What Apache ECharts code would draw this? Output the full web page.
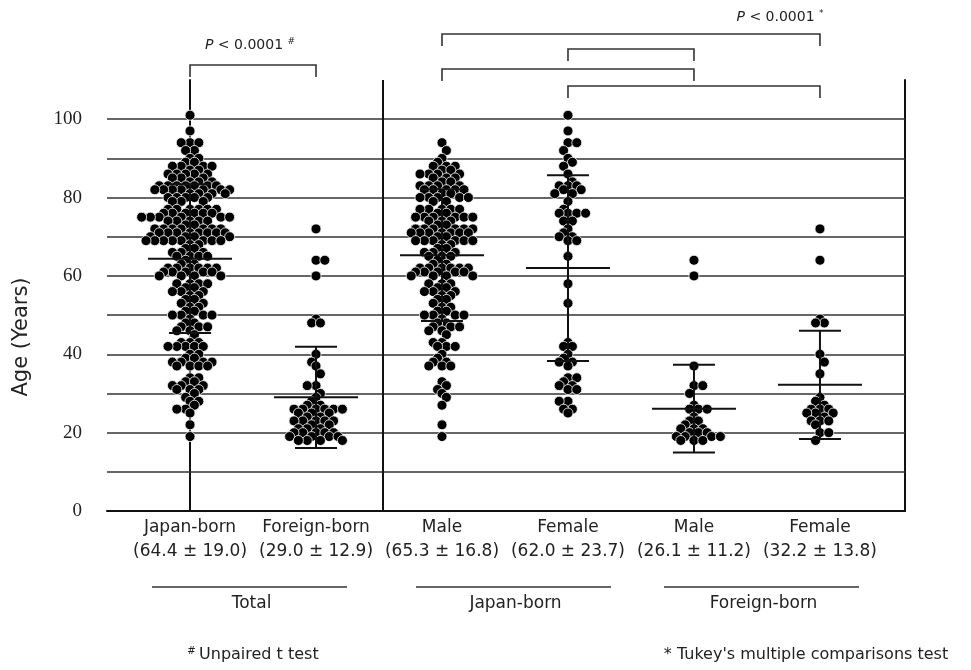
<!DOCTYPE html>
<html><head><meta charset="utf-8">
<script src="https://cdn.jsdelivr.net/npm/echarts@6/dist/echarts.min.js"></script>
<style>html,body{margin:0;padding:0;background:#fff}#c{width:971px;height:670px}</style>
</head><body><div id="c"></div>
<script>
// ---------- data ----------
const categories = ['Japan-born', 'Foreign-born', 'Male', 'Female', 'Male', 'Female'];
const means = [64.4, 29.0, 65.3, 62.0, 26.1, 32.2];
const sds = [19.0, 12.9, 16.8, 23.7, 11.2, 13.8];
const yTickLabels = [0, 20, 40, 60, 80, 100];
const gridValues = [10, 20, 30, 40, 50, 60, 70, 80, 90, 100];
const groupNames = ['Total', 'Japan-born', 'Foreign-born'];

const japanMale = [94,92,90,89,88,88,88,87,87,86,86,86,86,85,85,85,84,84,83,83,83,83,82,82,82,82,82,81,81,
  80,80,80,80,80,79,79,77,77,77,77,77,76,76,75,75,75,75,75,75,74,74,74,73,73,72,72,72,72,72,72,
  71,71,71,71,71,71,71,70,70,69,69,69,69,69,69,68,68,67,67,66,66,66,65,65,65,64,63,63,
  62,62,62,62,62,62,61,61,61,61,61,60,60,60,60,58,58,58,57,57,56,56,56,55,55,54,54,53,52,52,51,51,
  50,50,50,50,49,48,48,47,47,47,46,46,45,43,43,42,42,42,40,39,38,38,37,37,37,33,32,31,30,29,27,22,19];
const japanFemale = [101,97,94,94,92,90,89,88,86,84,83,83,83,82,82,81,81,79,77,76,76,76,76,74,74,72,71,70,70,
  69,69,65,58,53,43,42,42,40,39,38,38,37,34,34,33,32,32,31,31,28,28,26,26,25];
const foreignMale = [64,60,37,32,32,30,27,26,26,26,24,23,23,22,21,21,21,20,20,20,19,19,19,19,18,18,18];
const foreignFemale = [72,64,49,48,48,40,38,35,29,28,27,26,26,26,25,25,25,24,23,23,23,22,20,20,18];
const japanTotal = japanMale.concat(japanFemale);
const foreignTotal = foreignMale.concat(foreignFemale);
const groupsData = [japanTotal, foreignTotal, japanMale, japanFemale, foreignMale, foreignFemale];

// ---------- layout ----------
const W = 971, H = 670;
const GRID = {left: 107, right: 66, top: 80, bottom: 159};
const X_MIN = -0.659, X_MAX = 5.675, Y_MIN = 0, Y_MAX = 110;
const pxX = (W - GRID.left - GRID.right) / (X_MAX - X_MIN);
const DOT = 10, HALF = 4.4;
const TXT = '#222';
const FONT = 'DejaVu Sans';

// lattice swarm: same row needs 2 half-steps apart, rows within 2 may not share a slot
function swarm(values, center) {
  const pts = values.slice().sort((a, b) => b - a);
  const rows = {};
  const out = [];
  let flip = 1;
  pts.forEach(v => {
    const r = Math.round(v);
    const same = rows[r] || [];
    const near = [].concat(rows[r + 1] || [], rows[r - 1] || [], rows[r + 2] || [], rows[r - 2] || []);
    let chosen = 0;
    for (let d = 0; d < 60; d++) {
      const cands = d === 0 ? [0] : [d * flip, -d * flip];
      let ok = null;
      for (const j of cands) {
        if (same.every(s => Math.abs(s - j) >= 2) && !near.includes(j)) { ok = j; break; }
      }
      if (ok !== null) { chosen = ok; break; }
    }
    if (chosen !== 0) flip = -flip;
    (rows[r] = same).push(chosen);
    out.push([center + chosen * HALF / pxX, v]);
  });
  return out;
}

const scatterSeries = groupsData.map((vals, i) => ({
  type: 'scatter', name: categories[i] + i,
  data: swarm(vals, i),
  symbol: 'circle', symbolSize: DOT,
  itemStyle: {color: '#000', opacity: 1, borderColor: '#fff', borderWidth: 0.8},
  z: 3, silent: true
}));
scatterSeries[0].markLine = {
  silent: true, symbol: 'none', label: {show: false},
  lineStyle: {color: '#333', width: 1.6, type: 'solid', opacity: 1},
  data: gridValues.map(v => ({yAxis: v})).concat([{xAxis: 1.53, lineStyle: {color: '#111', width: 2}}]),
  z: 1
};

const errSeries = {
  type: 'custom', z: 5, silent: true, clip: false,
  data: means.map((m, i) => [i, m, sds[i]]),
  renderItem(params, api) {
    const x = api.value(0), m = api.value(1), s = api.value(2);
    const c = api.coord([x, m]), hi = api.coord([x, m + s]), lo = api.coord([x, m - s]);
    const st = {stroke: '#111', lineWidth: 2};
    return {type: 'group', children: [
      {type: 'line', shape: {x1: c[0] - 42, y1: c[1], x2: c[0] + 42, y2: c[1]}, style: st},
      {type: 'line', shape: {x1: hi[0] - 21, y1: hi[1], x2: hi[0] + 21, y2: hi[1]}, style: st},
      {type: 'line', shape: {x1: lo[0] - 21, y1: lo[1], x2: lo[0] + 21, y2: lo[1]}, style: st},
      {type: 'line', shape: {x1: hi[0], y1: hi[1], x2: lo[0], y2: lo[1]}, style: st}
    ]};
  }
};

const labelSeries = {
  type: 'custom', silent: true, clip: false,
  data: categories.map((c, i) => [i, 0]),
  renderItem(params, api) {
    const i = api.value(0);
    const p = api.coord([i, 0]);
    const txt = categories[i] + '\n(' + means[i].toFixed(1) + ' \u00b1 ' + sds[i].toFixed(1) + ')';
    return {type: 'text', x: p[0], y: p[1] + 5, style: {
      text: txt, align: 'center', verticalAlign: 'top', fill: TXT,
      font: '17px "DejaVu Sans"', lineHeight: 24}};
  }
};

// bracket pairs: [from category, to category]
const bracketPairs = [[0, 1], [2, 5], [3, 4], [2, 4], [3, 5]];
const bracketOffsets = [-15, -46, -31, -11, 6];
const bracketSeries = {
  type: 'custom', silent: true, clip: false,
  data: bracketPairs.map((p, k) => [p[0], p[1], k]),
  renderItem(params, api) {
    const a = api.coord([api.value(0), 0])[0];
    const b = api.coord([api.value(1), 0])[0];
    const top = api.coord([0, Y_MAX])[1];
    const y = top + bracketOffsets[api.value(2)];
    return {type: 'polyline', shape: {points: [[a, y + 12], [a, y], [b, y], [b, y + 12]]},
      style: {stroke: '#333', lineWidth: 1.6, fill: null}};
  }
};

const chart = echarts.init(document.getElementById('c'), null, {renderer: 'canvas'});
const pRich = {i: {fontStyle: 'italic', fontSize: 14, fontFamily: FONT, fill: TXT},
  n: {fontSize: 14, fontFamily: FONT, fill: TXT},
  s: {fontSize: 9, fontFamily: FONT, fill: TXT, padding: [0, 0, 7, 0]}};
const groupLines = [[152, 347], [416, 611], [664, 859]];

chart.setOption({
  backgroundColor: '#fff',
  animation: false,
  textStyle: {fontFamily: FONT},
  grid: {left: GRID.left, right: GRID.right, top: GRID.top, bottom: GRID.bottom, containLabel: false},
  xAxis: {type: 'value', min: X_MIN, max: X_MAX,
    axisLine: {show: true, onZero: false, lineStyle: {color: '#111', width: 2}},
    axisTick: {show: false}, axisLabel: {show: false}, splitLine: {show: false}},
  yAxis: [
    {type: 'value', min: Y_MIN, max: Y_MAX, interval: 10,
      axisLine: {show: true, lineStyle: {color: '#111', width: 2}},
      axisTick: {show: false}, splitLine: {show: false},
      axisLabel: {margin: 25, color: TXT, fontFamily: 'Liberation Serif', fontSize: 19,
        formatter: v => yTickLabels.includes(v) ? String(v) : ''}},
    {type: 'value', min: Y_MIN, max: Y_MAX, position: 'right',
      axisLine: {show: true, lineStyle: {color: '#111', width: 2}},
      axisTick: {show: false}, axisLabel: {show: false}, splitLine: {show: false}}
  ],
  series: scatterSeries.concat([errSeries, labelSeries, bracketSeries]),
  graphic: [
    {type: 'text', x: 22, y: 337, rotation: Math.PI / 2,
      style: {text: 'Age (Years)', font: '21px "DejaVu Sans"', fill: TXT, align: 'center', verticalAlign: 'middle'}},
    {type: 'text', x: 250, y: 45, style: {text: '{i|P}{n| < 0.0001 }{s|#}', rich: pRich, align: 'center', verticalAlign: 'middle'}},
    {type: 'text', x: 780, y: 17, style: {text: '{i|P}{n| < 0.0001 }{s|*}', rich: pRich, align: 'center', verticalAlign: 'middle'}},
    ...groupLines.map((g, k) => ({type: 'line', shape: {x1: g[0], y1: 587, x2: g[1], y2: 587},
      style: {stroke: '#333', lineWidth: 1.4}})),
    ...groupLines.map((g, k) => ({type: 'text', x: (g[0] + g[1]) / 2 + 2, y: 604,
      style: {text: groupNames[k], font: '17px "DejaVu Sans"', fill: TXT, align: 'center', verticalAlign: 'middle'}})),
    {type: 'text', x: 253, y: 655, style: {text: '{s|#} {n|Unpaired t test}',
      rich: {s: {fontSize: 10, fontFamily: FONT, fill: TXT, padding: [0, 0, 8, 0]},
             n: {fontSize: 16, fontFamily: FONT, fill: TXT}},
      align: 'center', verticalAlign: 'middle'}},
    {type: 'text', x: 806, y: 655, style: {text: "* Tukey's multiple comparisons test",
      font: '16px "DejaVu Sans"', fill: TXT, align: 'center', verticalAlign: 'middle'}}
  ]
});
</script></body></html>
